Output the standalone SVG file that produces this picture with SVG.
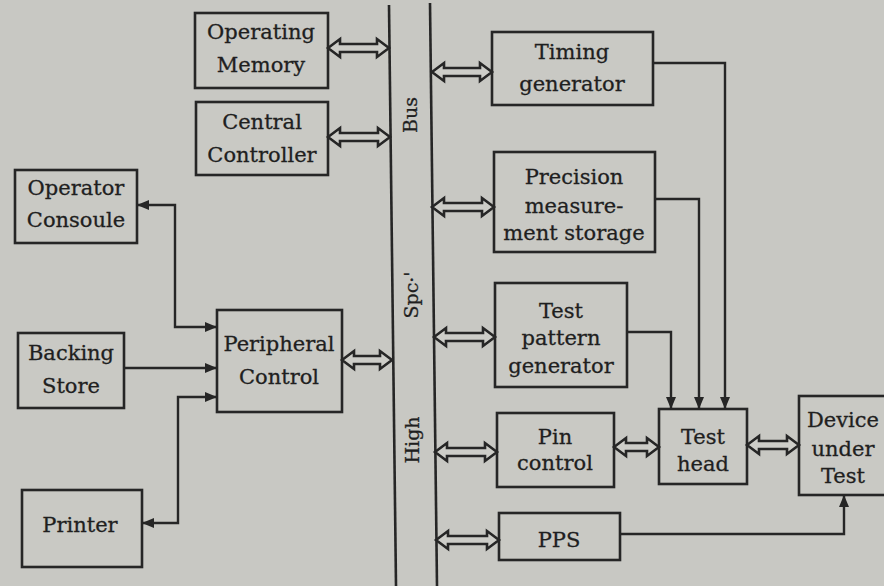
<svg xmlns="http://www.w3.org/2000/svg" width="884" height="586" viewBox="0 0 884 586">
<style>
.bg{fill:#c8c8c3}
.box{fill:#c9c9c4;stroke:#262626;stroke-width:2.6}
.bus{stroke:#262626;stroke-width:2.6;fill:none}
.dbl{fill:#cdcdc8;stroke:#262626;stroke-width:2.6;stroke-linejoin:miter}
.ln{fill:none;stroke:#262626;stroke-width:2.4}
.t{font-family:"DejaVu Serif","Liberation Serif",serif;font-size:21px;fill:#1f1f1f;text-anchor:middle;stroke:#1f1f1f;stroke-width:0.3}
.bl{font-family:"DejaVu Serif","Liberation Serif",serif;font-size:19px;fill:#1f1f1f;text-anchor:middle;stroke:#1f1f1f;stroke-width:0.3}
</style>
<defs>
<marker id="ah" viewBox="0 0 12 12" refX="12" refY="6" markerWidth="12" markerHeight="12" markerUnits="userSpaceOnUse" orient="auto-start-reverse">
<path d="M0,1 L12,6 L0,11 Z" fill="#262626"/>
</marker>
</defs>
<rect class="bg" x="0" y="0" width="884" height="586"/>

<g id="bus">
<line class="bus" x1="389" y1="5" x2="396" y2="586"/>
<line class="bus" x1="430" y1="3" x2="437" y2="586"/>
<text class="bl" transform="translate(417,115) rotate(-90)">Bus</text>
<text class="bl" transform="translate(418,295) rotate(-90)">Spc·'</text>
<text class="bl" transform="translate(419,440) rotate(-90)">High</text>
</g>

<g id="operating-memory">
<rect class="box" x="195" y="13" width="133" height="75"/>
<text class="t" x="261" y="39">Operating</text>
<text class="t" x="261" y="72">Memory</text>
</g>
<g id="central-controller">
<rect class="box" x="196" y="102" width="132" height="73"/>
<text class="t" x="262" y="129">Central</text>
<text class="t" x="262" y="162">Controller</text>
</g>
<g id="operator-console">
<rect class="box" x="15" y="170" width="122" height="73"/>
<text class="t" x="76" y="195">Operator</text>
<text class="t" x="76" y="227">Consoule</text>
</g>
<g id="backing-store">
<rect class="box" x="18" y="333" width="106" height="75"/>
<text class="t" x="71" y="360">Backing</text>
<text class="t" x="71" y="393">Store</text>
</g>
<g id="peripheral-control">
<rect class="box" x="217" y="310" width="125" height="102"/>
<text class="t" x="279" y="351">Peripheral</text>
<text class="t" x="279" y="384">Control</text>
</g>
<g id="printer">
<rect class="box" x="22" y="490" width="120" height="77"/>
<text class="t" x="80" y="532">Printer</text>
</g>
<g id="timing-generator">
<rect class="box" x="492" y="32" width="161" height="73"/>
<text class="t" x="572" y="59">Timing</text>
<text class="t" x="572" y="91">generator</text>
</g>
<g id="precision-storage">
<rect class="box" x="494" y="152" width="161" height="100"/>
<text class="t" x="574" y="184">Precision</text>
<text class="t" x="574" y="213">measure-</text>
<text class="t" x="574" y="240">ment storage</text>
</g>
<g id="test-pattern-generator">
<rect class="box" x="495" y="283" width="132" height="104"/>
<text class="t" x="561" y="318">Test</text>
<text class="t" x="561" y="345">pattern</text>
<text class="t" x="561" y="373">generator</text>
</g>
<g id="pin-control">
<rect class="box" x="497" y="413" width="117" height="74"/>
<text class="t" x="555" y="444">Pin</text>
<text class="t" x="555" y="470">control</text>
</g>
<g id="test-head">
<rect class="box" x="659" y="409" width="88" height="75"/>
<text class="t" x="703" y="444">Test</text>
<text class="t" x="703" y="471">head</text>
</g>
<g id="device-under-test">
<rect class="box" x="799" y="396" width="95" height="99"/>
<text class="t" x="843" y="427">Device</text>
<text class="t" x="843" y="456">under</text>
<text class="t" x="843" y="483">Test</text>
</g>
<g id="pps">
<rect class="box" x="499" y="513" width="121" height="47"/>
<text class="t" x="559" y="547">PPS</text>
</g>

<g id="connectors">
<path class="dbl" d="M328,48 L340,39 L340,44 L377,44 L377,39 L389,48 L377,57 L377,52 L340,52 L340,57 Z"/>
<path class="dbl" d="M328,137 L340,128 L340,133 L378,133 L378,128 L390,137 L378,146 L378,141 L340,141 L340,146 Z"/>
<path class="dbl" d="M342,360 L354,351 L354,356 L380,356 L380,351 L392,360 L380,369 L380,364 L354,364 L354,369 Z"/>
<path class="dbl" d="M432,72 L444,63 L444,68 L480,68 L480,63 L492,72 L480,81 L480,76 L444,76 L444,81 Z"/>
<path class="dbl" d="M432,207 L444,198 L444,203 L482,203 L482,198 L494,207 L482,216 L482,211 L444,211 L444,216 Z"/>
<path class="dbl" d="M434,337 L446,328 L446,333 L483,333 L483,328 L495,337 L483,346 L483,341 L446,341 L446,346 Z"/>
<path class="dbl" d="M435,452 L447,443 L447,448 L485,448 L485,443 L497,452 L485,461 L485,456 L447,456 L447,461 Z"/>
<path class="dbl" d="M436,540 L448,531 L448,536 L487,536 L487,531 L499,540 L487,549 L487,544 L448,544 L448,549 Z"/>
<path class="dbl" d="M614,447 L626,438 L626,443 L647,443 L647,438 L659,447 L647,456 L647,451 L626,451 L626,456 Z"/>
<path class="dbl" d="M747,445 L759,436 L759,441 L787,441 L787,436 L799,445 L787,454 L787,449 L759,449 L759,454 Z"/>
<path class="ln" d="M217,327 H175 V205 H137" marker-start="url(#ah)" marker-end="url(#ah)"/>
<path class="ln" d="M124,368 H217" marker-end="url(#ah)"/>
<path class="ln" d="M217,397 H178 V523 H142" marker-start="url(#ah)" marker-end="url(#ah)"/>
<path class="ln" d="M653,63 H725 V409" marker-end="url(#ah)"/>
<path class="ln" d="M655,199 H699 V409" marker-end="url(#ah)"/>
<path class="ln" d="M627,332 H671 V409" marker-end="url(#ah)"/>
<path class="ln" d="M620,534 H844 V495" marker-end="url(#ah)"/>
</g>
</svg>
